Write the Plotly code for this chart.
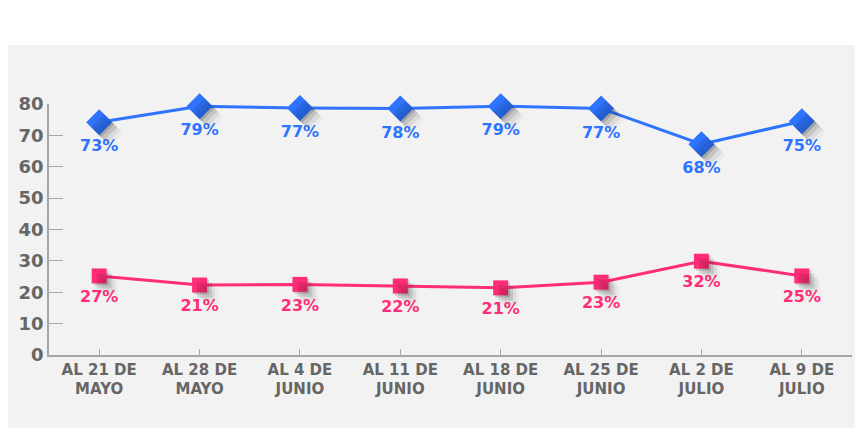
import plotly.graph_objects as go

categories = ["AL 21 DE<br>MAYO", "AL 28 DE<br>MAYO", "AL 4 DE<br>JUNIO", "AL 11 DE<br>JUNIO",
              "AL 18 DE<br>JUNIO", "AL 25 DE<br>JUNIO", "AL 2 DE<br>JULIO", "AL 9 DE<br>JULIO"]
blue_values = [74.2, 79.3, 78.7, 78.6, 79.3, 78.6, 67.2, 74.5]
blue_labels = ["73%", "79%", "77%", "78%", "79%", "77%", "68%", "75%"]
pink_values = [25.2, 22.3, 22.5, 22.0, 21.4, 23.2, 29.9, 25.2]
pink_labels = ["27%", "21%", "23%", "22%", "21%", "23%", "32%", "25%"]

BLUE = "#2f74ff"
PINK = "#ff2d78"
GRAY = "#a6a6a6"
TXT = "#666666"
BG = "#f2f2f2"
FONT = "DejaVu Sans"

# the page body adds an 8px margin, so the figure is 8px smaller on each axis
# plot area (figure px): left 41, right 844, top 96, bottom 347
W, H = 803, 251
idx = list(range(len(categories)))

fig = go.Figure()
layout_axes = {}

# soft drop shadows: each layer sits on its own hidden axes, shifted down/right
shadow_layers = [(2, 0.16), (5, 0.11), (8, 0.06), (11, 0.03)]
for i, (off, alpha) in enumerate(shadow_layers):
    n = "" if i == 0 else str(i + 2)
    dx = off / (W / 8)
    dy = off / (H / 80)
    fig.add_trace(go.Scatter(x=idx, y=blue_values, mode="markers", xaxis="x" + n, yaxis="y" + n,
                             marker=dict(symbol="diamond", size=20, color=f"rgba(0,0,0,{alpha})"),
                             cliponaxis=False, hoverinfo="skip", showlegend=False))
    fig.add_trace(go.Scatter(x=idx, y=pink_values, mode="markers", xaxis="x" + n, yaxis="y" + n,
                             marker=dict(symbol="square", size=15, color=f"rgba(0,0,0,{alpha})"),
                             cliponaxis=False, hoverinfo="skip", showlegend=False))
    xa = dict(range=[-0.5 - dx, 7.5 - dx], visible=False, fixedrange=True, automargin=False)
    ya = dict(range=[dy, 80 + dy], visible=False, fixedrange=True, automargin=False)
    if n:
        xa.update(overlaying="x", anchor="y" + n)
        ya.update(overlaying="y", anchor="x" + n)
    layout_axes["xaxis" + n] = xa
    layout_axes["yaxis" + n] = ya

for vals, labels, color, symbol, size in [(blue_values, blue_labels, BLUE, "diamond", 20),
                                          (pink_values, pink_labels, PINK, "square", 15)]:
    fig.add_trace(go.Scatter(
        x=idx, y=vals, mode="lines+markers", xaxis="x2", yaxis="y2",
        line=dict(color=color, width=3),
        marker=dict(symbol=symbol, size=size, color=color),
        cliponaxis=False, showlegend=False,
    ))
    # labels: invisible larger marker pushes the text a little further down
    fig.add_trace(go.Scatter(
        x=idx, y=vals, mode="markers+text", xaxis="x2", yaxis="y2",
        marker=dict(size=size + 6, opacity=0),
        text=labels, textposition="bottom center",
        textfont=dict(family=FONT, size=16, color=color, weight="bold"),
        cliponaxis=False, hoverinfo="skip", showlegend=False,
    ))

fig.add_shape(type="rect", xref="paper", yref="paper",
              x0=-0.1, x1=1.1, y0=-0.4, y1=(347 - 37) / H,
              fillcolor=BG, line_width=0, layer="below")

fig.update_layout(
    width=855, height=420,
    margin=dict(l=41, r=11, t=96, b=73),
    paper_bgcolor="white",
    plot_bgcolor="rgba(0,0,0,0)",
    font=dict(family=FONT, color=TXT),
    **layout_axes,
    xaxis2=dict(
        overlaying="x", anchor="y2", range=[-0.5, 7.5], automargin=False,
        tickmode="array", tickvals=idx, ticktext=categories,
        showline=True, linecolor=GRAY, linewidth=1.5,
        showgrid=False, zeroline=False,
        ticks="inside", ticklen=6, tickcolor=GRAY,
        tickfont=dict(family=FONT, size=15, color=TXT, weight="bold"),
    ),
    yaxis2=dict(
        overlaying="y", anchor="x2", range=[0, 80], dtick=10, automargin=False,
        showline=True, linecolor=GRAY, linewidth=1.5,
        showgrid=False, zeroline=False,
        ticks="inside", ticklen=14, tickcolor=GRAY,
        tickfont=dict(family=FONT, size=18, color=TXT, weight="bold"),
    ),
)

fig.write_html("out.html")
